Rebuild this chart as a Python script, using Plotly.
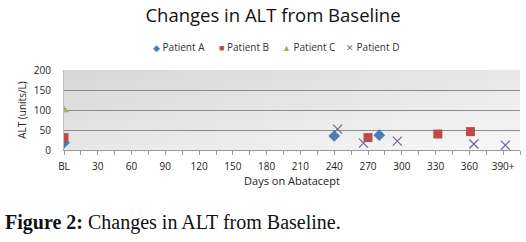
import base64
import plotly.graph_objects as go

# ---- data ----
days_a = [0, 240, 280]
alt_a = [18, 35, 37]
days_b = [0, 270, 332, 361]
alt_b = [31, 31, 40, 46]
days_c = [0]
alt_c = [100]
days_d = [243, 266, 296, 364, 392]
alt_d = [52, 17, 22, 15, 12]

tick_days = [0, 30, 60, 90, 120, 150, 180, 210, 240, 270, 300, 330, 360, 390]
tick_labels = ["BL", "30", "60", "90", "120", "150", "180", "210", "240",
               "270", "300", "330", "360", "390+"]

series_names = ["Patient A", "Patient B", "Patient C", "Patient D"]
series_colors = ["#4a7ebb", "#be4b48", "#98b954", "#7d60a0"]
legend_glyphs = ["◆", "■", "▲", "✕"]

W, H = 526, 242
L, R, T, B = 64, 6, 70, 92
PW = W - L - R
PH = H - T - B


def px_x(page_x):
    return (page_x - L) / PW


def px_y(page_y):
    return (H - page_y - B) / PH


svg = ('<svg xmlns="http://www.w3.org/2000/svg" width="100" height="100" preserveAspectRatio="none">'
       '<defs><linearGradient id="g" x1="0" y1="0" x2="1" y2="1">'
       '<stop offset="0" stop-color="#d6d6d6"/><stop offset="1" stop-color="#f8f8f8"/>'
       '</linearGradient></defs><rect width="100" height="100" fill="url(#g)"/></svg>')
bg_src = "data:image/svg+xml;base64," + base64.b64encode(svg.encode()).decode()

fig = go.Figure()
fig.add_trace(go.Scatter(x=days_a, y=alt_a, mode="markers", name=series_names[0],
                         marker=dict(symbol="diamond", size=9, color=series_colors[0])))
fig.add_trace(go.Scatter(x=days_b, y=alt_b, mode="markers", name=series_names[1],
                         marker=dict(symbol="square", size=9, color=series_colors[1])))
fig.add_trace(go.Scatter(x=days_c, y=alt_c, mode="markers", name=series_names[2],
                         marker=dict(symbol="triangle-up", size=9, color=series_colors[2])))
fig.add_trace(go.Scatter(x=days_d, y=alt_d, mode="markers", name=series_names[3],
                         marker=dict(symbol="x-thin", size=9, color=series_colors[3],
                                     line=dict(width=1.2, color=series_colors[3]))))

fig.update_layout(
    width=W, height=H,
    margin=dict(l=L, r=R, t=T, b=B),
    paper_bgcolor="white",
    plot_bgcolor="rgba(0,0,0,0)",
    font=dict(family="Open Sans, sans-serif", color="#222"),
    title=dict(text="Changes in ALT from Baseline", x=273 / W, xanchor="center",
               y=1 - 16 / H, yanchor="middle", font=dict(size=18.5, color="#111")),
    showlegend=False,
    images=[dict(source=bg_src, xref="paper", yref="paper", x=0, y=1,
                 sizex=1, sizey=1, sizing="stretch", layer="below")],
    xaxis=dict(range=[0, 405], tickmode="array", tickvals=tick_days, ticktext=tick_labels,
               ticks="outside", ticklen=4, tickcolor="#999", showgrid=False,
               zeroline=False, showline=True, linecolor="#999", linewidth=1,
               tickfont=dict(size=10), automargin=False, ticklabelstandoff=3,
               minor=dict(ticks="outside", dtick=15, tick0=0, ticklen=4, tickcolor="#999"),
               title=dict(text="Days on Abatacept", font=dict(size=11), standoff=5)),
    yaxis=dict(range=[0, 200], tickvals=[0, 50, 100, 150, 200], showgrid=True,
               gridcolor="#8c8c8c", gridwidth=1, zeroline=False, showline=True,
               linecolor="#bbb", tickfont=dict(size=10), ticks="", automargin=False,
               ticklabelstandoff=10,
               title=dict(text="ALT (units/L)", font=dict(size=10), standoff=5)),
)

# legend drawn as text entries (page x of each symbol's left edge)
legend_x = [151, 217, 280, 344]
for name, col, g, lx in zip(series_names, series_colors, legend_glyphs, legend_x):
    fig.add_annotation(
        text=f'<span style="color:{col};font-size:9px">{g}</span> {name}',
        xref="paper", yref="paper", x=px_x(lx), y=px_y(47),
        xanchor="left", yanchor="middle", showarrow=False,
        font=dict(size=10, color="#333"))

fig.add_annotation(text="<b>Figure 2:</b> Changes in ALT from Baseline.",
                   xref="paper", yref="paper", x=px_x(3), y=px_y(222),
                   xanchor="left", yanchor="middle", showarrow=False,
                   font=dict(family="Liberation Serif, serif", size=20, color="#111"))

fig.write_html("out.html", config={"displayModeBar": False},
               post_script="document.body.style.margin='0px';document.body.style.overflow='hidden';")
